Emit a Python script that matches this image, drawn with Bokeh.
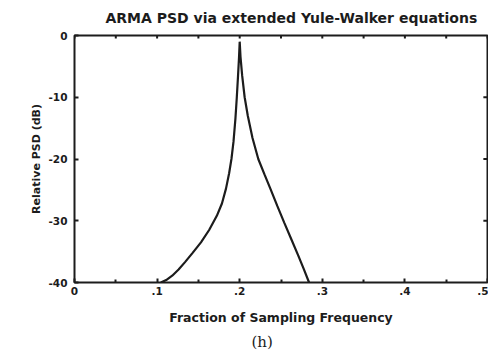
from bokeh.plotting import figure
from bokeh.models import FixedTicker, Range1d, Title
from bokeh.embed import file_html
from bokeh.resources import INLINE

# PSD curve
freq = [0.1045, 0.1110, 0.1183, 0.1260, 0.1338, 0.1430, 0.1531, 0.1630, 0.1723, 0.1785,
        0.1834, 0.1872, 0.1900, 0.1925, 0.1948, 0.1965, 0.1980, 0.1992, 0.2000,
        0.2010, 0.2030, 0.2060, 0.2098, 0.2155, 0.2225, 0.2300, 0.2371, 0.2455,
        0.2539, 0.2625, 0.2708, 0.2775, 0.2840]
psd = [-40.0, -39.6, -38.9, -37.9, -36.7, -35.2, -33.5, -31.5, -29.2, -27.2,
       -24.8, -22.3, -20.0, -17.2, -13.5, -10.0, -6.5, -3.5, -1.0,
       -3.5, -6.5, -10.0, -13.0, -16.6, -20.0, -22.5, -24.8, -27.6,
       -30.3, -33.0, -35.6, -37.8, -40.0]

xticks = [0, 0.1, 0.2, 0.3, 0.4, 0.5]
xtick_labels = ["0", ".1", ".2", ".3", ".4", ".5"]
xminor = [0.05, 0.15, 0.25, 0.35, 0.45]
yticks = [-40, -30, -20, -10, 0]
ytick_labels = ["-40", "-30", "-20", "-10", "0"]

title_text = "ARMA PSD via extended Yule-Walker equations"
xlabel = "Fraction of Sampling Frequency"
ylabel = "Relative PSD (dB)"
panel_tag = "(h)"

INK = "#1c1c1c"
FONT = "DejaVu Sans"

p = figure(width=488, height=358, x_range=Range1d(0, 0.5), y_range=Range1d(-40, 0),
           output_backend="svg", toolbar_location=None,
           min_border_left=74, min_border_right=1, min_border_top=35, min_border_bottom=76)
p.grid.visible = False
p.outline_line_color = INK
p.outline_line_width = 2
p.background_fill_color = "white"
p.border_fill_color = "white"

p.line(freq, psd, line_width=2.2, color=INK)

def style_axis(ax, ticks, minor, labels):
    ax.ticker = FixedTicker(ticks=ticks, minor_ticks=minor)
    ax.major_label_overrides = dict(zip(ticks, labels))
    ax.axis_line_color = None
    ax.major_tick_in = 4
    ax.major_tick_out = 0
    ax.minor_tick_in = 3
    ax.minor_tick_out = 0
    ax.major_tick_line_color = INK
    ax.minor_tick_line_color = INK
    ax.major_tick_line_width = 2
    ax.minor_tick_line_width = 2
    ax.major_label_text_font = FONT
    ax.major_label_text_font_style = "bold"
    ax.major_label_text_font_size = "10.5px"
    ax.major_label_text_color = INK

style_axis(p.xaxis[0], xticks, xminor, xtick_labels)
p.xaxis[0].major_label_standoff = 4
p.xaxis[0].axis_label = xlabel
p.xaxis[0].axis_label_text_font = FONT
p.xaxis[0].axis_label_text_font_style = "bold"
p.xaxis[0].axis_label_text_font_size = "12.5px"
p.xaxis[0].axis_label_text_color = INK
p.xaxis[0].axis_label_standoff = 12

style_axis(p.yaxis[0], yticks, [], ytick_labels)
p.yaxis[0].major_label_standoff = 7
p.yaxis[0].axis_label = ylabel
p.yaxis[0].axis_label_text_font = FONT
p.yaxis[0].axis_label_text_font_style = "bold"
p.yaxis[0].axis_label_text_font_size = "11px"
p.yaxis[0].axis_label_text_color = INK
p.yaxis[0].axis_label_standoff = 3

# inward tick marks on the top and right edges of the frame
top_ticks = sorted(xticks + xminor)
p.segment(x0=top_ticks, y0=[0] * len(top_ticks), x1=top_ticks, y1=[-0.5] * len(top_ticks),
          line_color=INK, line_width=2)
right_ticks = yticks[1:-1]
p.segment(x0=[0.5] * len(right_ticks), y0=right_ticks, x1=[0.495] * len(right_ticks), y1=right_ticks,
          line_color=INK, line_width=2)

p.title.text = title_text
p.title.align = "left"
p.title.offset = 31
p.title.text_font = FONT
p.title.text_font_style = "bold"
p.title.text_font_size = "14px"
p.title.text_color = INK
p.title.standoff = 16
p.title.vertical_align = "top"

p.add_layout(Title(text=panel_tag, align="left", offset=177, text_font="DejaVu Serif",
                   text_font_style="normal", text_font_size="15px", text_color=INK,
                   standoff=11, vertical_align="top"), "below")

open("out.html", "w").write(file_html(p, INLINE))
